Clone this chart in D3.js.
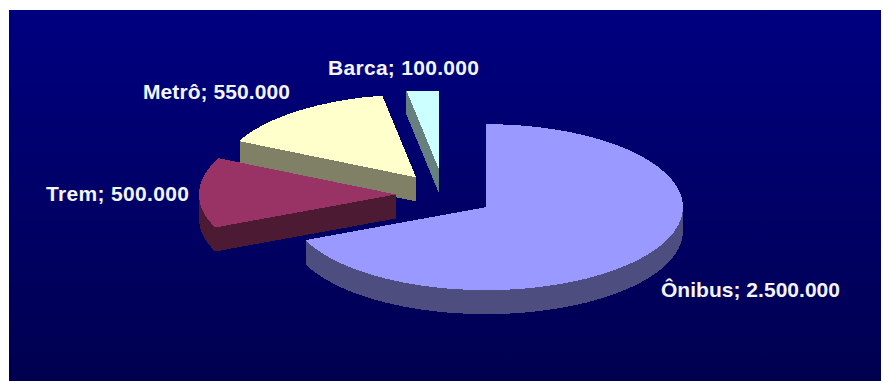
<!DOCTYPE html>
<html>
<head>
<meta charset="utf-8">
<script src="https://cdn.jsdelivr.net/npm/d3@7"></script>
<style>
  html, body { margin: 0; padding: 0; background: #fff; }
  svg { display: block; }
  text { font-family: "Liberation Sans", Arial, sans-serif; font-weight: bold; font-size: 21px; fill: #f4f4ff; }
</style>
</head>
<body>
<svg id="chart" width="883" height="381"></svg>
<script>
// Passengers carried per mode of transport
const categories = ["Ônibus", "Trem", "Metrô", "Barca"];
const values = [2500000, 500000, 550000, 100000];
const valueLabels = ["2.500.000", "500.000", "550.000", "100.000"];
const topColors = ["#9999ff", "#993366", "#ffffcc", "#ccffff"];
const wallColors = ["#4d4d80", "#4d1a33", "#808066", "#668080"];

const svg = d3.select("#chart");

// Panel with a vertical navy fade
const defs = svg.append("defs");
const fade = defs.append("linearGradient").attr("id", "panelFade")
  .attr("x1", 0).attr("y1", 0).attr("x2", 0).attr("y2", 1);
fade.append("stop").attr("offset", 0).attr("stop-color", "#000080");
fade.append("stop").attr("offset", 1).attr("stop-color", "#000050");
svg.append("rect").attr("x", 9).attr("y", 10).attr("width", 872).attr("height", 371)
  .attr("fill", "url(#panelFade)");

// The plot area trims whatever is pushed past its top edge
defs.append("clipPath").attr("id", "plotClip")
  .append("rect").attr("x", 0).attr("y", 91).attr("width", 883).attr("height", 290);

const rx = 197, ry = 83, depth = 24;
const centerX = 445, centerY = 194;
const pullX = 49, pullY = 24;
// Fine correction of each slice's pulled-out position
const nudgeX = [0, 0, 0.5, -1.5];
const nudgeY = [0, 1, 2.5, 0];

const pie = d3.pie().sort(null).value(d => d.value);
const slices = pie(categories.map((name, i) => ({ name, value: values[i], i })));
const arc = d3.arc().innerRadius(0).outerRadius(rx);

const offset = (s, k) => {
  const mid = (s.startAngle + s.endAngle) / 2;
  return [
    centerX + pullX * Math.sin(mid) + nudgeX[k],
    centerY - pullY * Math.cos(mid) + nudgeY[k]
  ];
};

const plot = svg.append("g").attr("clip-path", "url(#plotClip)");

// Back slices first, so the nearer ones overlap them
const drawOrder = [3, 2, 1, 0];
drawOrder.forEach(k => {
  const s = slices[k];
  const [x, y] = offset(s, k);
  const g = plot.append("g").attr("shape-rendering", "crispEdges");
  // Side wall: the outline swept downward through the slab thickness
  d3.range(depth, 0, -1).forEach(dy => {
    g.append("path")
      .attr("transform", `translate(${x},${y + dy}) scale(1,${ry / rx})`)
      .attr("d", arc(s))
      .attr("fill", wallColors[k]);
  });
  g.append("path")
    .attr("transform", `translate(${x},${y}) scale(1,${ry / rx})`)
    .attr("d", arc(s))
    .attr("fill", topColors[k]);
});

// Data labels, each fitted to its own run length
const labelAnchors = [[661, 297], [46, 201], [143, 99], [328, 75]];
const labelWidths = [179, 143, 147, 151];
categories.forEach((name, i) => {
  svg.append("text")
    .attr("x", labelAnchors[i][0])
    .attr("y", labelAnchors[i][1])
    .attr("textLength", labelWidths[i])
    .attr("lengthAdjust", "spacing")
    .text(`${name}; ${valueLabels[i]}`);
});
</script>
</body>
</html>
